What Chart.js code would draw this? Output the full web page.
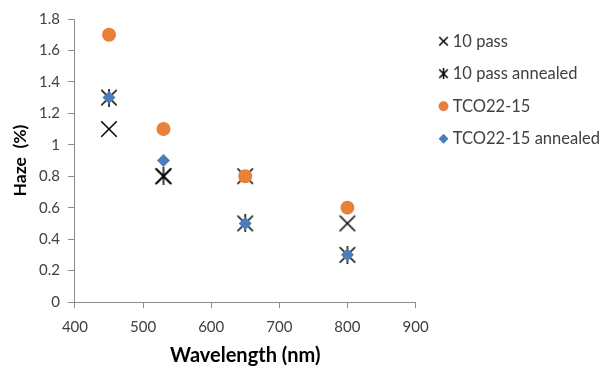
<!DOCTYPE html>
<html>
<head>
<meta charset="utf-8">
<script src="https://cdn.jsdelivr.net/npm/chart.js@4.4.1/dist/chart.umd.min.js"></script>
<style>
  body { margin: 0; background: #ffffff; }
  #wrap { width: 602px; height: 367px; }
</style>
</head>
<body>
<div id="wrap"><canvas id="hazeChart" width="602" height="367"></canvas></div>
<script>
// Données
const wavelengths = [450, 530, 650, 800];
const pass10 = [1.1, 0.8, 0.8, 0.5];
const pass10Annealed = [1.3, 0.8, 0.5, 0.3];
const tco2215 = [1.7, 1.1, 0.8, 0.6];
const tco2215Annealed = [1.3, 0.9, 0.5, 0.3];
const seriesNames = ['10 pass', '10 pass annealed', 'TCO22-15', 'TCO22-15 annealed'];

const ORANGE = '#E8803A';
const BLUE = '#4A7EBB';
const AXIS = '#8c8c8c';
const TEXT = '#404040';

// Marqueurs dessinés à la main (croix et astérisque)
function makeMarker(size, lw, withVertical) {
    const c = document.createElement('canvas');
    c.width = size;
    c.height = size;
    const ctx = c.getContext('2d');
    ctx.strokeStyle = '#000000';
    ctx.lineWidth = lw;
    const m = lw / 2 + 0.5;
    ctx.beginPath();
    ctx.moveTo(m, m);
    ctx.lineTo(size - m, size - m);
    ctx.moveTo(size - m, m);
    ctx.lineTo(m, size - m);
    if (withVertical) {
        ctx.moveTo(size / 2, 0);
        ctx.lineTo(size / 2, size);
    }
    ctx.stroke();
    return c;
}

const crossBig = makeMarker(18, 1.5, false);
const starBig = makeMarker(18, 1.5, true);
const crossSmall = makeMarker(11, 1.5, false);
const starSmall = makeMarker(11, 1.5, true);

function toPoints(ys) {
    return wavelengths.map((x, i) => ({ x: x, y: ys[i] }));
}

const legendStyles = [crossSmall, starSmall, 'circle', 'rectRot'];
const legendColors = ['#000000', '#000000', ORANGE, BLUE];

// Décale la légende (dessin seulement) pour laisser un espace après l'axe
const legendShift = {
    id: 'legendShift',
    afterLayout(ch) {
        const lg = ch.legend;
        if (!lg) return;
        lg.left += 11;
        lg.right += 11;
        lg.top -= 2;
        lg.bottom -= 2;
    }
};

const chart = new Chart(document.getElementById('hazeChart'), {
    type: 'scatter',
    data: {
        datasets: [
            { label: seriesNames[0], data: toPoints(pass10), pointStyle: crossBig, order: 4 },
            { label: seriesNames[1], data: toPoints(pass10Annealed), pointStyle: starBig, order: 3 },
            { label: seriesNames[2], data: toPoints(tco2215), pointStyle: 'circle', pointRadius: 7,
              backgroundColor: ORANGE, borderColor: ORANGE, borderWidth: 0, order: 2 },
            { label: seriesNames[3], data: toPoints(tco2215Annealed), pointStyle: 'rectRot', pointRadius: 6.5,
              backgroundColor: BLUE, borderColor: BLUE, borderWidth: 0, order: 1 }
        ]
    },
    options: {
        responsive: false,
        animation: false,
        layout: { padding: { left: 10, top: 19, right: 3, bottom: 1 } },
        scales: {
            x: {
                type: 'linear',
                min: 400,
                max: 900,
                border: { display: true, color: AXIS, width: 1 },
                grid: { drawOnChartArea: false, drawTicks: true, tickLength: 6, color: AXIS },
                ticks: { stepSize: 100, color: TEXT, font: { family: 'Lato', size: 15 }, padding: 10 },
                title: { display: true, text: 'Wavelength (nm)', color: '#000000',
                         font: { family: 'Lato', size: 20, weight: 'bold', lineHeight: 1 },
                         padding: { top: 0, bottom: 0 } }
            },
            y: {
                min: 0,
                max: 1.8,
                border: { display: true, color: AXIS, width: 1 },
                grid: { drawOnChartArea: false, drawTicks: true, tickLength: 7, color: AXIS },
                ticks: { stepSize: 0.2, color: TEXT, font: { family: 'Lato', size: 15 }, padding: 8,
                         callback: v => String(Math.round(v * 10) / 10) },
                title: { display: true, text: 'Haze  (%)', color: '#000000',
                         font: { family: 'Lato', size: 17.5, weight: 'bold' }, padding: { top: 0, bottom: 0 } }
            }
        },
        plugins: {
            tooltip: { enabled: false },
            legend: {
                position: 'right',
                align: 'start',
                maxWidth: 320,
                labels: {
                    usePointStyle: true,
                    boxWidth: 2,
                    boxHeight: 7,
                    padding: 16,
                    color: TEXT,
                    font: { family: 'Lato', size: 16.5, lineHeight: 1 },
                    generateLabels: function (ch) {
                        return ch.data.datasets.map((ds, i) => ({
                            text: ds.label,
                            pointStyle: legendStyles[i],
                            fillStyle: legendColors[i],
                            strokeStyle: legendColors[i],
                            lineWidth: 0,
                            fontColor: TEXT,
                            hidden: false,
                            datasetIndex: i
                        }));
                    }
                }
            }
        }
    },
    plugins: [legendShift]
});
</script>
</body>
</html>
